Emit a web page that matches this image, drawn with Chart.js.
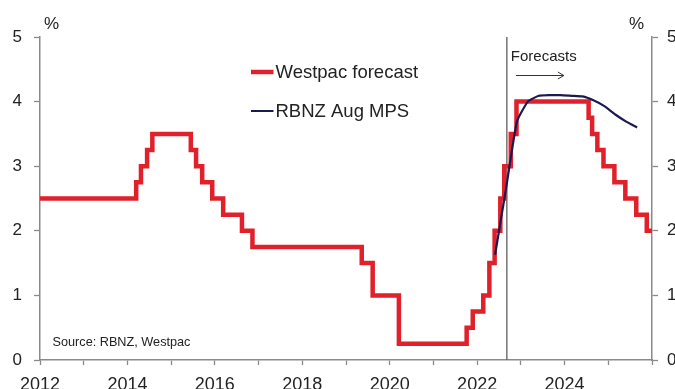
<!DOCTYPE html>
<html>
<head>
<meta charset="utf-8">
<script src="https://cdn.jsdelivr.net/npm/chart.js@4.4.0/dist/chart.umd.min.js"></script>
<style>
  body { margin: 0; background: #fff; }
  #chart { display: block; }
</style>
</head>
<body>
<canvas id="chart" width="675" height="389"></canvas>
<script>
// OCR steps: date of change (decimal year) and the new rate, last point closes the line
const rateDates = [2012.0, 2014.2, 2014.31, 2014.45, 2014.57, 2015.45, 2015.57, 2015.71, 2015.94,
  2016.19, 2016.62, 2016.86, 2019.36, 2019.61, 2020.21, 2021.76, 2021.9, 2022.14, 2022.28,
  2022.4, 2022.53, 2022.62, 2022.77, 2022.9, 2024.55, 2024.63, 2024.75, 2024.89, 2025.14,
  2025.39, 2025.64, 2025.88, 2026.0];
const rateValues = [2.5, 2.75, 3.0, 3.25, 3.5, 3.25, 3.0, 2.75, 2.5,
  2.25, 2.0, 1.75, 1.5, 1.0, 0.25, 0.5, 0.75, 1.0, 1.5,
  2.0, 2.5, 3.0, 3.5, 4.0, 3.75, 3.5, 3.25, 3.0, 2.75,
  2.5, 2.25, 2.0, 2.0];

// RBNZ Aug MPS OCR track, quarterly
const mpsQuarters = [2022.41, 2022.66, 2022.91, 2023.16, 2023.41, 2023.66, 2023.91, 2024.16,
  2024.41, 2024.66, 2024.91, 2025.16, 2025.41, 2025.66];
const mpsValues = [1.63, 2.65, 3.69, 4.0, 4.09, 4.1, 4.1, 4.09, 4.08, 4.02, 3.93, 3.8, 3.69, 3.6];

const yTicks = [0, 1, 2, 3, 4, 5];
const forecastStart = 2022.68;

const seriesNames = ['Westpac forecast', 'RBNZ Aug MPS'];
const red = '#e0202b';
const navy = '#1b1a50';
const axisGrey = '#8a8a8a';
const font = "'Liberation Sans', Arial, sans-serif";

const westpac = rateDates.map((d, i) => ({ x: d, y: rateValues[i] }));
const mps = mpsQuarters.map((d, i) => ({ x: d, y: mpsValues[i] }));

// forecast divider, "Forecasts" label, arrow, legend, source, % units
const extras = {
  id: 'extras',
  beforeDatasetsDraw(chart) {
    const c = chart.ctx, xs = chart.scales.x, a = chart.chartArea;
    const fx = xs.getPixelForValue(forecastStart);
    c.save();
    c.strokeStyle = '#5e5e5e';
    c.lineWidth = 1.3;
    c.beginPath();
    c.moveTo(fx, a.top);
    c.lineTo(fx, a.bottom);
    c.stroke();
    c.restore();
  },
  afterDraw(chart) {
    const c = chart.ctx, xs = chart.scales.x;
    const fx = xs.getPixelForValue(forecastStart);
    c.save();
    c.fillStyle = '#222';
    c.font = '15px ' + font;
    c.textBaseline = 'middle';
    c.textAlign = 'left';
    c.fillText('Forecasts', fx + 4, 57);
    // arrow
    c.strokeStyle = '#333';
    c.lineWidth = 1;
    c.beginPath();
    c.moveTo(fx + 9, 75.5);
    c.lineTo(fx + 57, 75.5);
    c.moveTo(fx + 51, 72);
    c.lineTo(fx + 57, 75.5);
    c.lineTo(fx + 51, 79);
    c.stroke();

    // legend
    const lg = [[red, 4.5, 72], [navy, 2, 111]];
    c.font = '18.5px ' + font;
    lg.forEach((l, i) => {
      c.strokeStyle = l[0];
      c.lineWidth = l[1];
      c.beginPath();
      c.moveTo(251, l[2]);
      c.lineTo(273.5, l[2]);
      c.stroke();
      c.fillStyle = '#222';
      c.fillText(seriesNames[i], 275.5, l[2] + 0.5);
    });

    // source
    c.font = '12.7px ' + font;
    c.fillStyle = '#222';
    c.fillText('Source: RBNZ, Westpac', 52.5, 342);

    // units
    c.font = '17px ' + font;
    c.fillText('%', 44, 24);
    c.fillText('%', 629, 24);
    c.restore();
  }
};

const yScale = (pos) => ({
  type: 'linear',
  position: pos,
  min: 0,
  max: 5,
  afterBuildTicks: s => { s.ticks = yTicks.map(v => ({ value: v })); },
  afterFit: s => { s.width = pos === 'left' ? 40 : 23; },
  grid: { drawOnChartArea: false, tickLength: 6, tickColor: axisGrey, tickWidth: 1.3 },
  border: { color: axisGrey, width: 1.5 },
  ticks: { color: '#222', font: { family: font, size: 17 }, padding: pos === 'left' ? 12 : 9 }
});

new Chart(document.getElementById('chart'), {
  type: 'line',
  data: {
    datasets: [
      {
        label: seriesNames[0],
        data: westpac,
        borderColor: red,
        borderWidth: 4.5,
        stepped: 'before',
        pointRadius: 0,
        borderJoinStyle: 'miter',
        order: 2
      },
      {
        label: seriesNames[1],
        data: mps,
        borderColor: navy,
        borderWidth: 2.2,
        tension: 0.15,
        pointRadius: 0,
        order: 1
      }
    ]
  },
  options: {
    responsive: false,
    animation: false,
    layout: { padding: { top: 37, left: 0, right: 0, bottom: 0 } },
    plugins: { legend: { display: false }, tooltip: { enabled: false } },
    scales: {
      x: {
        type: 'linear',
        position: 'bottom',
        min: 2012,
        max: 2026,
        afterFit: s => { s.height = 29; },
        grid: { drawOnChartArea: false, tickLength: 5, tickColor: axisGrey, tickWidth: 1.3 },
        border: { color: axisGrey, width: 1.5 },
        ticks: {
          stepSize: 1,
          autoSkip: false,
          maxRotation: 0,
          padding: 9,
          color: '#222',
          font: { family: font, size: 18 },
          callback: v => (v % 2 === 0 && v < 2026) ? String(v) : ''
        }
      },
      y: yScale('left'),
      y2: yScale('right')
    }
  },
  plugins: [extras]
});
</script>
</body>
</html>
